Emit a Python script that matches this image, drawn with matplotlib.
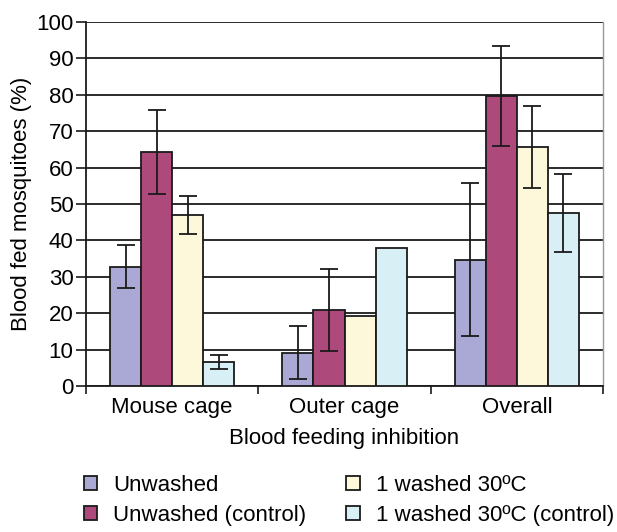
import matplotlib.pyplot as plt
import numpy as np
from matplotlib.patches import Patch

plt.rcParams["font.family"] = ["Liberation Sans", "DejaVu Sans"]

categories = ["Mouse cage", "Outer cage", "Overall"]
series = ["Unwashed", "Unwashed (control)", "1 washed 30ºC", "1 washed 30ºC (control)"]
values = [
    [32.8, 9.1, 34.7],    # Unwashed
    [64.3, 20.9, 79.7],   # Unwashed (control)
    [47.0, 19.3, 65.7],   # 1 washed 30ºC
    [6.6, 37.9, 47.5],    # 1 washed 30ºC (control)
]
errors = [
    [6.0, 7.3, 21.0],
    [11.5, 11.2, 13.8],
    [5.2, 0.0, 11.3],
    [1.8, 0.0, 10.8],
]
colors = ["#aaa8d5", "#ad497b", "#fcf8d9", "#d9eff6"]
FS = 16
INK = "#1a1a1a"

fig = plt.figure(figsize=(6.17, 5.32), dpi=100)
ax = fig.add_axes([0.1394, 0.2744, 0.8379, 0.6842])

x = np.arange(len(categories))
width = 0.18
for i, (vals, errs, col) in enumerate(zip(values, errors, colors)):
    pos = x + (i - 1.5) * width
    ax.bar(pos, vals, width, color=col, edgecolor=INK, linewidth=1.3, zorder=3)
    e = np.array(errs)
    mask = e > 0
    ax.errorbar(pos[mask], np.array(vals)[mask], yerr=e[mask], fmt="none",
                ecolor=INK, elinewidth=1.3, capsize=6.5, capthick=1.3, zorder=4)

ax.set_xlim(-0.5, 2.5)
ax.set_ylim(0, 100)
ax.set_yticks(np.arange(0, 101, 10))
ax.set_xticks(x)
ax.set_xticklabels(categories, fontsize=FS)
ax.set_xticks([-0.5, 0.5, 1.5, 2.5], minor=True)
ax.tick_params(axis="x", which="major", length=0, pad=8)
ax.tick_params(axis="x", which="minor", length=6, width=1.2, direction="out", color=INK)
ax.tick_params(axis="y", labelsize=FS, length=7, width=1.2, direction="out", color=INK, pad=2)

ax.yaxis.grid(True, color=INK, linewidth=1.3, zorder=0)
ax.set_axisbelow(True)
for s in ["left", "bottom"]:
    ax.spines[s].set_linewidth(1.3)
    ax.spines[s].set_color(INK)
ax.spines["top"].set_visible(False)
ax.spines["right"].set_color("#999999")
ax.spines["right"].set_linewidth(1.0)

ax.set_xlabel("Blood feeding inhibition", fontsize=FS, labelpad=7)
ax.set_ylabel("Blood fed mosquitoes (%)", fontsize=FS, labelpad=3)

handles = [Patch(facecolor=c, edgecolor=INK, linewidth=1.3) for c in colors]
fig.legend(handles, series, loc="upper left", bbox_to_anchor=(84 / 617, 1 - 475 / 532), ncol=2,
           frameon=False, fontsize=FS, handlelength=0.6, handleheight=0.6,
           columnspacing=1.8, labelspacing=0.4, handletextpad=0.72,
           borderpad=0, borderaxespad=0)

fig.savefig("out.png", dpi=100)
